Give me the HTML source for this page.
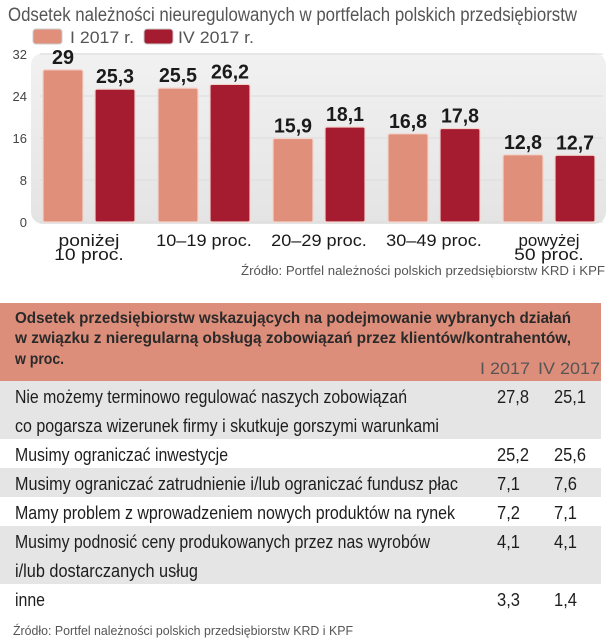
<!DOCTYPE html>
<html><head><meta charset="utf-8">
<style>
html,body{margin:0;padding:0;background:#fff;}
svg{display:block;font-family:"Liberation Sans",sans-serif;}
</style></head>
<body>
<svg id="s" width="607" height="640" viewBox="0 0 607 640">
<defs>
<linearGradient id="pg" x1="0" y1="0" x2="0" y2="1">
<stop offset="0" stop-color="#f1f1f1"/><stop offset="1" stop-color="#e4e4e4"/>
</linearGradient>
</defs>
<text x="8" y="21" font-size="19" fill="#555" textLength="569" lengthAdjust="spacingAndGlyphs">Odsetek należności nieuregulowanych w portfelach polskich przedsiębiorstw</text>
<g>
<rect x="33" y="29" width="29" height="15" rx="3" fill="#e0907a" stroke="#ccc"/>
<text x="70" y="43" font-size="17" fill="#555" textLength="64" lengthAdjust="spacingAndGlyphs">I 2017 r.</text>
<rect x="144" y="29" width="29" height="15" rx="3" fill="#a51c30" stroke="#ccc"/>
<text x="178" y="43" font-size="17" fill="#555" textLength="76" lengthAdjust="spacingAndGlyphs">IV 2017 r.</text>
</g>
<rect x="31" y="53" width="575" height="171" rx="12" fill="url(#pg)"/>
<g id="chart"></g>
<text x="605" y="275" font-size="13" fill="#555" text-anchor="end" textLength="364" lengthAdjust="spacingAndGlyphs">Źródło: Portfel należności polskich przedsiębiorstw KRD i KPF</text>

<g>
<rect x="0" y="303" width="601" height="78" fill="#dd8e7b"/>
<g font-weight="bold" font-size="16" fill="#2a2a2a">
<text x="15" y="323" textLength="556" lengthAdjust="spacingAndGlyphs">Odsetek przedsiębiorstw wskazujących na podejmowanie wybranych działań</text>
<text x="15" y="343" textLength="556" lengthAdjust="spacingAndGlyphs">w związku z nieregularną obsługą zobowiązań przez klientów/kontrahentów,</text>
<text x="15" y="364" textLength="49" lengthAdjust="spacingAndGlyphs">w proc.</text>
</g>
<text x="480" y="374" font-size="17" fill="#555" textLength="50" lengthAdjust="spacingAndGlyphs">I 2017</text>
<text x="538" y="374" font-size="17" fill="#555" textLength="62" lengthAdjust="spacingAndGlyphs">IV 2017</text>
<g id="rows"></g>
<text x="13" y="635" font-size="13" fill="#555" textLength="340" lengthAdjust="spacingAndGlyphs">Źródło: Portfel należności polskich przedsiębiorstw KRD i KPF</text>
</g>
</svg>
<script>
const categories1 = ["poniżej|10 proc.", "10–19 proc.", "20–29 proc.", "30–49 proc.", "powyżej|50 proc."];
const seriesI = [29, 25.5, 15.9, 16.8, 12.8];
const seriesIV = [25.3, 26.2, 18.1, 17.8, 12.7];
const yTicks = [0, 8, 16, 24, 32];
const rowLabels = [
 "Nie możemy terminowo regulować naszych zobowiązań|co pogarsza wizerunek firmy i skutkuje gorszymi warunkami",
 "Musimy ograniczać inwestycje",
 "Musimy ograniczać zatrudnienie i/lub ograniczać fundusz płac",
 "Mamy problem z wprowadzeniem nowych produktów na rynek",
 "Musimy podnosić ceny produkowanych przez nas wyrobów|i/lub dostarczanych usług",
 "inne"];
const tableI = ["27,8", "25,2", "7,1", "7,2", "4,1", "3,3"];
const tableIV = ["25,1", "25,6", "7,6", "7,1", "4,1", "1,4"];

const NS = "http://www.w3.org/2000/svg";
function mk(tag, attrs, parent, txt){
  const e = document.createElementNS(NS, tag);
  for (const k in attrs) e.setAttribute(k, attrs[k]);
  if (txt !== undefined) e.textContent = txt;
  parent.appendChild(e); return e;
}
const y = v => 222 - v * 5.25;
const gx = i => 43 + i * 115;
const chart = document.getElementById('chart');
const fmt = v => String(v).replace('.', ',');

yTicks.forEach(t => {
  const l = mk('line', {x1: 40, x2: 603, y1: y(t), y2: y(t), stroke: '#dcdcdc', 'stroke-width': 1}, chart);
  
  
  const tx = mk('text', {x: 27, y: y(t) + 5, 'font-size': 13, fill: '#444', 'text-anchor': 'end'}, chart, String(t));
  
  
});

categories1.forEach((c, i) => {
  [[seriesI, 0, '#e0907a', 'i'], [seriesIV, 52, '#a51c30', 'iv']].forEach(([s, off, col, nm]) => {
    const v = s[i];
    const x = gx(i) + off;
    const r = mk('rect', {x: x, y: y(v), width: 40, height: 222 - y(v), rx: 2, fill: col, stroke: '#f3d3cc', 'stroke-width': 1.2}, chart);
    
    
    const lbl = fmt(v);
    const t = mk('text', {x: x + 20, y: y(v) - 6, 'font-size': 20, 'font-weight': 'bold', fill: '#1a1a1a', 'text-anchor': 'middle', textLength: lbl.length > 2 ? 38 : 22, lengthAdjust: 'spacingAndGlyphs'}, chart, lbl);
    
    
  });
  const parts = c.split('|');
  parts.forEach((p, j) => {
    const t = mk('text', {x: gx(i) + 46, y: 246 + j * 14, 'font-size': 17, fill: '#1a1a1a', 'text-anchor': 'middle', textLength: p.length * 8.7, lengthAdjust: 'spacingAndGlyphs'}, chart, p);
    
    
  });
});

const rows = document.getElementById('rows');
const rowTops = [381, 439, 468, 497, 526, 584];
const rowH = [58, 29, 29, 29, 58, 30];
const lens = [[392, 424], [213], [443], [440], [415, 183], [30]];
rowLabels.forEach((lab, i) => {
  if (i % 2 === 0) {
    const r = mk('rect', {x: 0, y: rowTops[i], width: 601, height: rowH[i], fill: '#e5e5e5'}, rows);
    
    
  }
  const base = rowTops[i] + 22;
  lab.split('|').forEach((p, j) => {
    const t = mk('text', {x: 15, y: base + j * 29, 'font-size': 18, fill: '#1e1e1e', textLength: lens[i][j], lengthAdjust: 'spacingAndGlyphs'}, rows, p);
    
    
  });
  const a = mk('text', {x: 497, y: base, 'font-size': 18, fill: '#1e1e1e', textLength: tableI[i].length > 3 ? 32 : 23, lengthAdjust: 'spacingAndGlyphs'}, rows, tableI[i]);
  
  
  const b = mk('text', {x: 554, y: base, 'font-size': 18, fill: '#1e1e1e', textLength: tableIV[i].length > 3 ? 32 : 23, lengthAdjust: 'spacingAndGlyphs'}, rows, tableIV[i]);
  
  
});
</script>
</body></html>
